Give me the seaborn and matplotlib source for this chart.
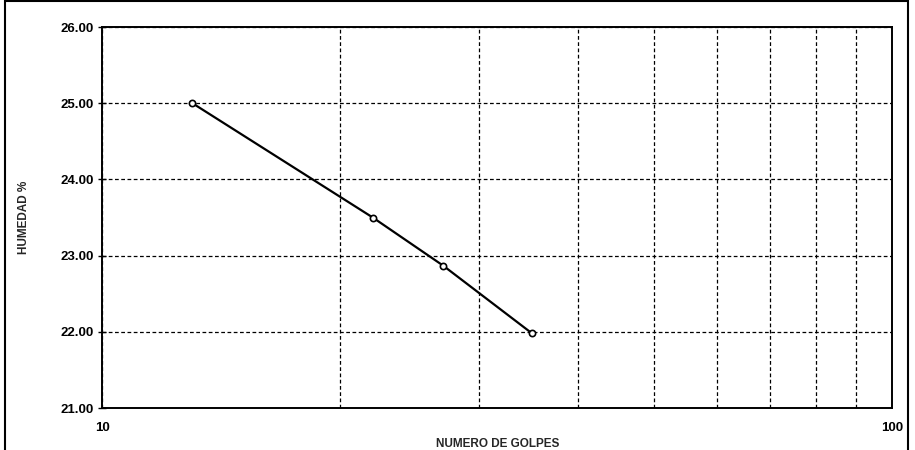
import matplotlib
matplotlib.use("Agg")
import matplotlib.pyplot as plt
import matplotlib.ticker as mticker
from matplotlib.patches import Rectangle
import seaborn as sns
import pandas as pd

# Liquid-limit flow curve: moisture vs. number of blows
golpes = [13, 22, 27, 35]
humedad = [25.00, 23.50, 22.87, 21.98]
y_ticks = [21.0, 22.0, 23.0, 24.0, 25.0, 26.0]
x_major = [10, 100]
x_minor = [20, 30, 40, 50, 60, 70, 80, 90]

sns.set_theme(style="white")
plt.rcParams["font.family"] = ["Liberation Sans", "DejaVu Sans"]

df = pd.DataFrame({"golpes": golpes, "humedad": humedad})

fig = plt.figure(figsize=(9.15, 4.5), dpi=100)
ax = fig.add_axes([0.112, 0.093, 0.863, 0.847])

sns.lineplot(data=df, x="golpes", y="humedad", ax=ax, color="black",
             linewidth=1.6, marker="o", markersize=4.5,
             markerfacecolor="white", markeredgecolor="black",
             markeredgewidth=1.2, sort=False)

ax.set_xscale("log")
ax.set_xlim(10, 100)
ax.set_ylim(21, 26)
ax.xaxis.set_major_locator(mticker.FixedLocator(x_major))
ax.xaxis.set_minor_locator(mticker.FixedLocator(x_minor))
ax.xaxis.set_major_formatter(mticker.FixedFormatter([str(v) for v in x_major]))
ax.xaxis.set_minor_formatter(mticker.NullFormatter())
ax.set_yticks(y_ticks)
ax.yaxis.set_major_formatter(mticker.FormatStrFormatter("%.2f"))

ax.grid(True, which="both", axis="x", color="black", linestyle=(0, (3, 2)), linewidth=0.9)
ax.grid(True, which="major", axis="y", color="black", linestyle=(0, (3, 2)), linewidth=0.9)

for s in ax.spines.values():
    s.set_color("black")
    s.set_linewidth(1.4)

ax.tick_params(axis="y", which="major", direction="inout", length=6, width=1,
               colors="black", labelsize=9.5, pad=3, left=True)
ax.tick_params(axis="x", which="both", direction="in", length=0, colors="black",
               labelsize=9.5, pad=10)
for lab in ax.get_yticklabels() + ax.get_xticklabels():
    lab.set_fontweight("bold")

ax.set_xlabel("NUMERO DE GOLPES", fontsize=8.5, fontweight="bold", labelpad=3)
ax.set_ylabel("HUMEDAD %", fontsize=8.5, fontweight="bold", labelpad=22)

# outer frame around the chart area
fig.patches.append(Rectangle((0.006, -0.01), 0.986, 1.008, transform=fig.transFigure,
                             fill=False, edgecolor="black", linewidth=1.5))

fig.savefig("out.png", dpi=100, facecolor="white")
